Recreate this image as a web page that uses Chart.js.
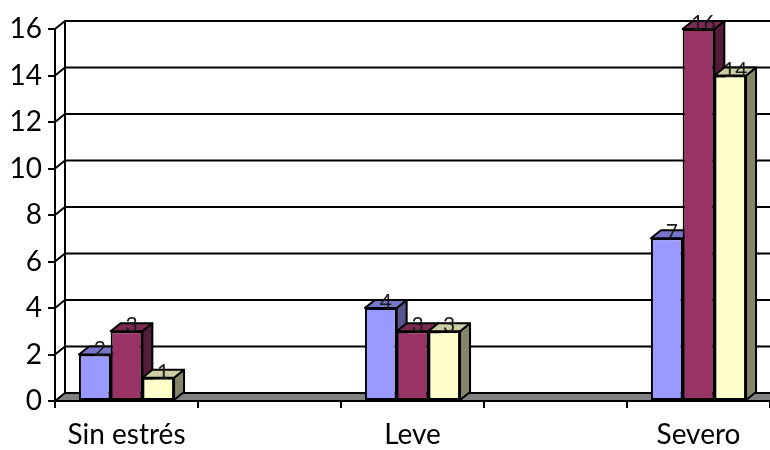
<!DOCTYPE html>
<html>
<head>
<meta charset="utf-8">
<script src="https://cdn.jsdelivr.net/npm/chart.js@4.4.1/dist/chart.umd.min.js"></script>
<style>
  html, body { margin: 0; padding: 0; background: #fff; overflow: hidden; }
  #wrap { width: 770px; height: 450px; position: relative; }
</style>
</head>
<body>
<div id="wrap"><canvas id="c" width="770" height="450"></canvas></div>
<script>
// Categories (empty slots separate the three groups along the axis)
const categories = ['Sin estrés', '', 'Leve', '', 'Severo'];
const serie1 = [2, null, 4, null, 7];
const serie2 = [3, null, 3, null, 16];
const serie3 = [1, null, 3, null, 14];
const yTickValues = [0, 2, 4, 6, 8, 10, 12, 14, 16];

// Depth of the pseudo-3D projection
const DX = 10, DY = -8;
const FONT = 'Lato, "Open Sans", sans-serif';

// front / top / side shades per series
const shades = [
  { front: '#9999FF', top: '#7676C8', side: '#55558F' },
  { front: '#993366', top: '#7B2A53', side: '#531C38' },
  { front: '#FFFFCC', top: '#CDCDA4', side: '#85856A' }
];

function poly(ctx, pts, fill) {
  ctx.beginPath();
  ctx.moveTo(pts[0][0], pts[0][1]);
  for (let i = 1; i < pts.length; i++) ctx.lineTo(pts[i][0], pts[i][1]);
  ctx.closePath();
  if (fill) { ctx.fillStyle = fill; ctx.fill(); }
  ctx.stroke();
}

const box3d = {
  id: 'box3d',
  // back wall, side wall gridlines and floor
  beforeDatasetsDraw(chart) {
    const ctx = chart.ctx;
    const { left, right } = chart.chartArea;
    const y = chart.scales.y;
    ctx.save();
    ctx.strokeStyle = '#000';
    ctx.lineWidth = 2;
    ctx.lineJoin = 'miter';
    const y0 = y.getPixelForValue(0);
    // floor
    poly(ctx, [[left, y0], [left + DX, y0 + DY], [right + DX + 20, y0 + DY], [right + 20, y0]], '#808080');
    // back wall left edge
    const yTop = y.getPixelForValue(yTickValues[yTickValues.length - 1]);
    ctx.beginPath();
    ctx.moveTo(left + DX, yTop + DY);
    ctx.lineTo(left + DX, y0 + DY);
    ctx.stroke();
    // gridlines: diagonal on the side wall, horizontal on the back wall
    yTickValues.forEach(v => {
      if (v === 0) return;
      const yf = y.getPixelForValue(v);
      ctx.beginPath();
      ctx.moveTo(left, yf);
      ctx.lineTo(left + DX, yf + DY);
      ctx.lineTo(right + DX + 20, yf + DY);
      ctx.stroke();
    });
    ctx.restore();
  },
  // the default pass is replaced by the ordered pass below
  beforeDatasetDraw() { return false; },
  afterDatasetsDraw(chart) {
    const ctx = chart.ctx;
    const n = chart.data.labels.length;
    const metas = chart.data.datasets.map((d, i) => chart.getDatasetMeta(i));
    ctx.save();
    for (let j = 0; j < n; j++) {
      metas.forEach((meta, i) => {
        const el = meta.data[j];
        const v = chart.data.datasets[i].data[j];
        if (!el || v === null || !isFinite(el.y)) return;
        const x0 = el.x - el.width / 2, x1 = el.x + el.width / 2;
        const yt = el.y, yb = el.base;
        ctx.strokeStyle = '#000';
        ctx.lineWidth = 2;
        ctx.lineJoin = 'round';
        poly(ctx, [[x1, yt], [x1 + DX, yt + DY], [x1 + DX, yb + DY], [x1, yb]], shades[i].side);
        poly(ctx, [[x0, yt], [x0 + DX, yt + DY], [x1 + DX, yt + DY], [x1, yt]], shades[i].top);
        el.draw(ctx, chart.chartArea);
      });
    }
    // value labels
    ctx.fillStyle = '#1a1a1a';
    ctx.font = '21px ' + FONT;
    ctx.textAlign = 'center';
    ctx.textBaseline = 'alphabetic';
    metas.forEach((meta, i) => {
      meta.data.forEach((el, j) => {
        const v = chart.data.datasets[i].data[j];
        if (v === null || !isFinite(el.y)) return;
        ctx.fillText(String(v), el.x + DX / 2, el.y + 1);
      });
    });
    ctx.restore();
  }
};

const mkSet = (label, data, i) => ({
  label,
  data,
  backgroundColor: shades[i].front,
  borderColor: '#000',
  borderWidth: 2,
  borderSkipped: false,
  categoryPercentage: 0.665,
  barPercentage: 1,
  clip: false
});

new Chart(document.getElementById('c'), {
  type: 'bar',
  data: {
    labels: categories,
    datasets: [
      mkSet('Serie1', serie1, 0),
      mkSet('Serie2', serie2, 1),
      mkSet('Serie3', serie3, 2)
    ]
  },
  options: {
    responsive: false,
    animation: false,
    devicePixelRatio: 1,
    layout: { padding: { top: 29, right: 0, left: 0, bottom: 0 } },
    plugins: { legend: { display: false }, tooltip: { enabled: false } },
    scales: {
      x: {
        offset: true,
        grid: { offset: true, drawOnChartArea: false, drawTicks: true, tickLength: 7, color: '#000', lineWidth: 2 },
        border: { display: true, color: '#000', width: 2 },
        ticks: { color: '#000', font: { family: FONT, size: 28 }, padding: 10, maxRotation: 0, autoSkip: false },
        afterFit: s => { s.height = 49; }
      },
      y: {
        min: 0,
        max: 16,
        afterBuildTicks: s => { s.ticks = yTickValues.map(v => ({ value: v })); },
        grid: { drawOnChartArea: false, drawTicks: true, tickLength: 7, color: '#000', lineWidth: 2 },
        border: { display: true, color: '#000', width: 2 },
        ticks: { color: '#000', font: { family: FONT, size: 28 }, padding: 6 },
        afterFit: s => { s.width = 55; }
      }
    }
  },
  plugins: [box3d]
});
</script>
</body>
</html>
